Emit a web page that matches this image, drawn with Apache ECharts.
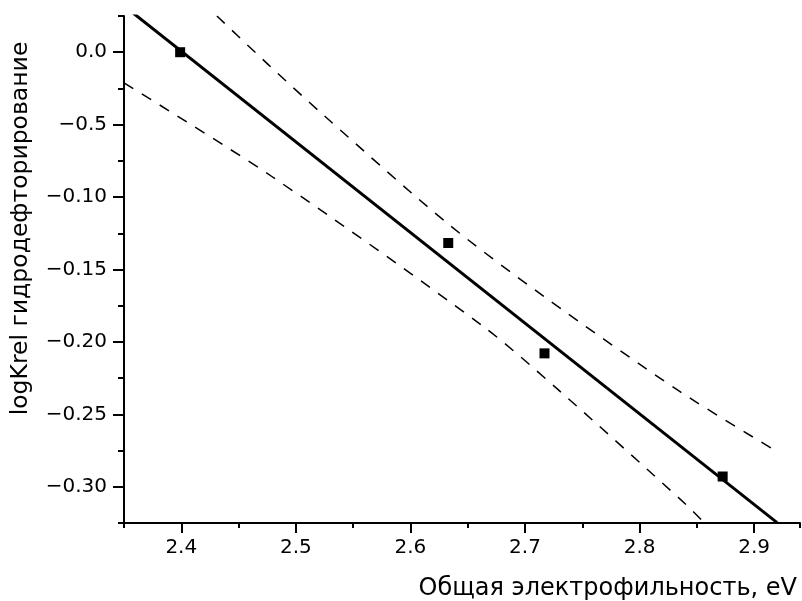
<!DOCTYPE html>
<html><head><meta charset="utf-8">
<script src="https://cdn.jsdelivr.net/npm/echarts@6/dist/echarts.min.js"></script>
<style>html,body{margin:0;padding:0;background:#fff}#c{width:802px;height:601px}</style>
</head><body><div id="c"></div>
<script>
// Data
const pointsX = [2.399, 2.633, 2.717, 2.8725];
const pointsY = [0.0, -0.1317, -0.2079, -0.2929];
const fitX = [2.35, 2.92];
const fitY = [0.032, -0.3247];
const upperX = [2.4311, 2.4764, 2.5244, 2.6313, 2.7170, 2.8347, 2.9197];
const upperY = [0.025, -0.0089, -0.0436, -0.1175, -0.1689, -0.2340, -0.2756];
const lowerX = [2.35, 2.4790, 2.6630, 2.7284, 2.8406, 2.8566];
const lowerY = [-0.0212, -0.0858, -0.1890, -0.2326, -0.3123, -0.325];
const xTickValues = [2.4, 2.5, 2.6, 2.7, 2.8, 2.9];
const xTickLabels = ["2.4", "2.5", "2.6", "2.7", "2.8", "2.9"];
const yTickValues = [0, -0.05, -0.10, -0.15, -0.20, -0.25, -0.30];
const yTickLabels = ["0.0", "\u22120.5", "\u22120.10", "\u22120.15", "\u22120.20", "\u22120.25", "\u22120.30"];
const xName = "Общая электрофильность, eV";
const yName = "logKrel гидродефторирование";

const zip = (a, b) => a.map((v, i) => [v, b[i]]);
const lookup = (vals, labels) => v => {
  for (let i = 0; i < vals.length; i++) if (Math.abs(v - vals[i]) < 1e-9) return labels[i];
  return '';
};
const FONT = '"DejaVu Sans", Verdana, sans-serif';
const xMin = 2.35, xMax = 2.94, yMin = -0.325, yMax = 0.025;

const chart = echarts.init(document.getElementById('c'));
chart.setOption({
  animation: false,
  backgroundColor: '#fff',
  textStyle: { fontFamily: FONT },
  grid: { left: 124, right: 2, top: 16, bottom: 78, containLabel: false },
  xAxis: [
    { type: 'value', min: xMin, max: xMax, interval: 0.05, position: 'bottom',
      axisLine: { show: true, onZero: false, lineStyle: { color: '#000', width: 2 } },
      axisTick: { show: true, length: 5, lineStyle: { color: '#000', width: 2 } },
      axisLabel: { show: false }, splitLine: { show: false } },
    { type: 'value', min: xMin, max: xMax, position: 'bottom',
      name: xName, nameLocation: 'end', nameGap: -3,
      nameTextStyle: { fontFamily: FONT, fontSize: 24, color: '#000', align: 'right', verticalAlign: 'top', padding: [54, 0, 0, 0] },
      axisLine: { show: false, onZero: false },
      axisTick: { show: true, length: 10, customValues: xTickValues, lineStyle: { color: '#000', width: 2 } },
      axisLabel: { show: true, customValues: xTickValues, margin: 15, fontSize: 20, color: '#000', fontFamily: FONT,
        formatter: lookup(xTickValues, xTickLabels) },
      splitLine: { show: false } }
  ],
  yAxis: [
    { type: 'value', min: yMin, max: yMax, interval: 0.025, position: 'left',
      axisLine: { show: true, onZero: false, lineStyle: { color: '#000', width: 2 } },
      axisTick: { show: true, length: 6, lineStyle: { color: '#000', width: 2 } },
      axisLabel: { show: false }, splitLine: { show: false } },
    { type: 'value', min: yMin, max: yMax, position: 'left',
      name: yName, nameLocation: 'middle', nameGap: 91, nameRotate: 90,
      nameTextStyle: { fontFamily: FONT, fontSize: 23.5, color: '#000', padding: [0, 0, 0, 82] },
      axisLine: { show: false, onZero: false },
      axisTick: { show: true, length: 11, customValues: yTickValues, lineStyle: { color: '#000', width: 2 } },
      axisLabel: { show: true, customValues: yTickValues, margin: 17, fontSize: 20, color: '#000', fontFamily: FONT,
        formatter: lookup(yTickValues, yTickLabels) },
      splitLine: { show: false } }
  ],
  series: [
    { type: 'line', xAxisIndex: 0, yAxisIndex: 0, data: zip(upperX, upperY), smooth: 0.3, showSymbol: false, clip: true,
      lineStyle: { color: '#000', width: 1.5, type: [11, 10] } },
    { type: 'line', xAxisIndex: 0, yAxisIndex: 0, data: zip(lowerX, lowerY), smooth: 0.3, showSymbol: false, clip: true,
      lineStyle: { color: '#000', width: 1.5, type: [11, 10] } },
    { type: 'line', xAxisIndex: 0, yAxisIndex: 0, data: zip(fitX, fitY), showSymbol: false, clip: true,
      lineStyle: { color: '#000', width: 3 } },
    { type: 'scatter', xAxisIndex: 0, yAxisIndex: 0, data: zip(pointsX, pointsY), symbol: 'rect', symbolSize: 10,
      itemStyle: { color: '#000', opacity: 1 }, z: 5 }
  ]
});
</script></body></html>
